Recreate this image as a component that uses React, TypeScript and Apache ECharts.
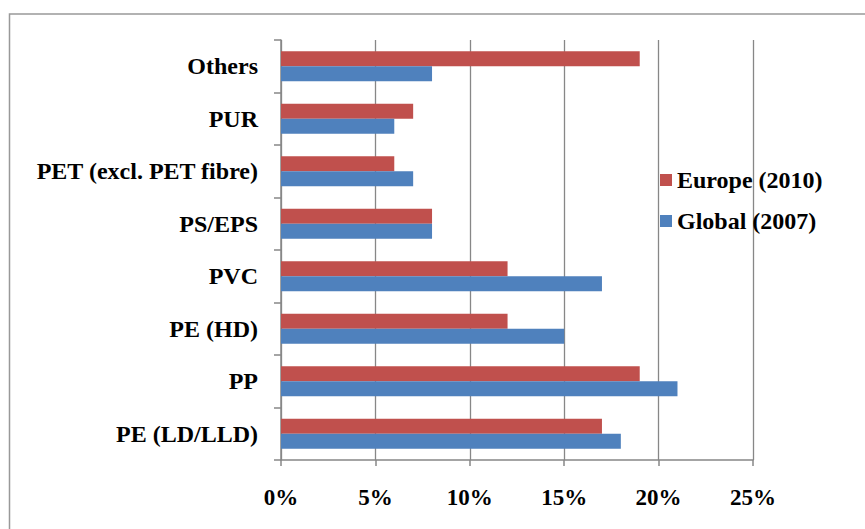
import React, { useEffect, useRef } from "react";
import * as echarts from "echarts";

// Plastic demand share by resin type
const categories = [
  "PE (LD/LLD)",
  "PP",
  "PE (HD)",
  "PVC",
  "PS/EPS",
  "PET (excl. PET fibre)",
  "PUR",
  "Others",
];
const globalShare2007 = [18, 21, 15, 17, 8, 7, 6, 8];
const europeShare2010 = [17, 19, 12, 12, 8, 6, 7, 19];
const xTicks = [0, 5, 10, 15, 20, 25];

const FONT = "'Liberation Serif', 'Times New Roman', serif";
const GRID_GREY = "#878787";

export default function App() {
  const ref = useRef<HTMLDivElement>(null);

  useEffect(() => {
    document.body.style.margin = "0";
    const chart = echarts.init(ref.current!, null, { renderer: "svg" });
    chart.setOption({
      animation: false,
      backgroundColor: "#ffffff",
      graphic: [
        {
          type: "rect",
          shape: { x: 9.5, y: 14, width: 900, height: 600 },
          style: { fill: "none", stroke: "#999999", lineWidth: 1.5 },
          silent: true,
        },
      ],
      grid: { left: 281, right: 112, top: 40, bottom: 69, containLabel: false },
      legend: {
        orient: "vertical",
        left: 655,
        top: 162,
        itemWidth: 12,
        itemHeight: 12,
        itemGap: 15,
        icon: "rect",
        data: ["Europe (2010)", "Global (2007)"],
        textStyle: {
          fontFamily: FONT,
          fontWeight: "bold",
          fontSize: 24,
          color: "#000",
          lineHeight: 26,
        },
      },
      xAxis: {
        type: "value",
        min: 0,
        max: 25,
        interval: 5,
        axisLine: { show: true, lineStyle: { color: GRID_GREY, width: 1.5 } },
        axisTick: { show: true, length: 6, lineStyle: { color: GRID_GREY, width: 1.5 } },
        splitLine: { show: true, lineStyle: { color: GRID_GREY, width: 1.3 } },
        axisLabel: {
          margin: 26,
          fontFamily: FONT,
          fontWeight: "bold",
          fontSize: 23,
          color: "#000",
          formatter: (v: number) => (xTicks.includes(v) ? `${v}%` : ""),
        },
      },
      yAxis: {
        type: "category",
        data: categories,
        axisLine: { show: true, lineStyle: { color: GRID_GREY, width: 1.5 } },
        axisTick: { show: true, length: 7, lineStyle: { color: GRID_GREY, width: 1.5 } },
        axisLabel: {
          margin: 23,
          fontFamily: FONT,
          fontWeight: "bold",
          fontSize: 24,
          color: "#000",
        },
      },
      series: [
        {
          name: "Europe (2010)",
          type: "bar",
          data: europeShare2010,
          barWidth: 15,
          barGap: "0%",
          itemStyle: { color: "#C0504D" },
        },
        {
          name: "Global (2007)",
          type: "bar",
          data: globalShare2007,
          barWidth: 15,
          barGap: "0%",
          itemStyle: { color: "#4F81BD" },
        },
      ],
    });
    return () => chart.dispose();
  }, []);

  return <div ref={ref} style={{ width: 865, height: 529 }} />;
}
